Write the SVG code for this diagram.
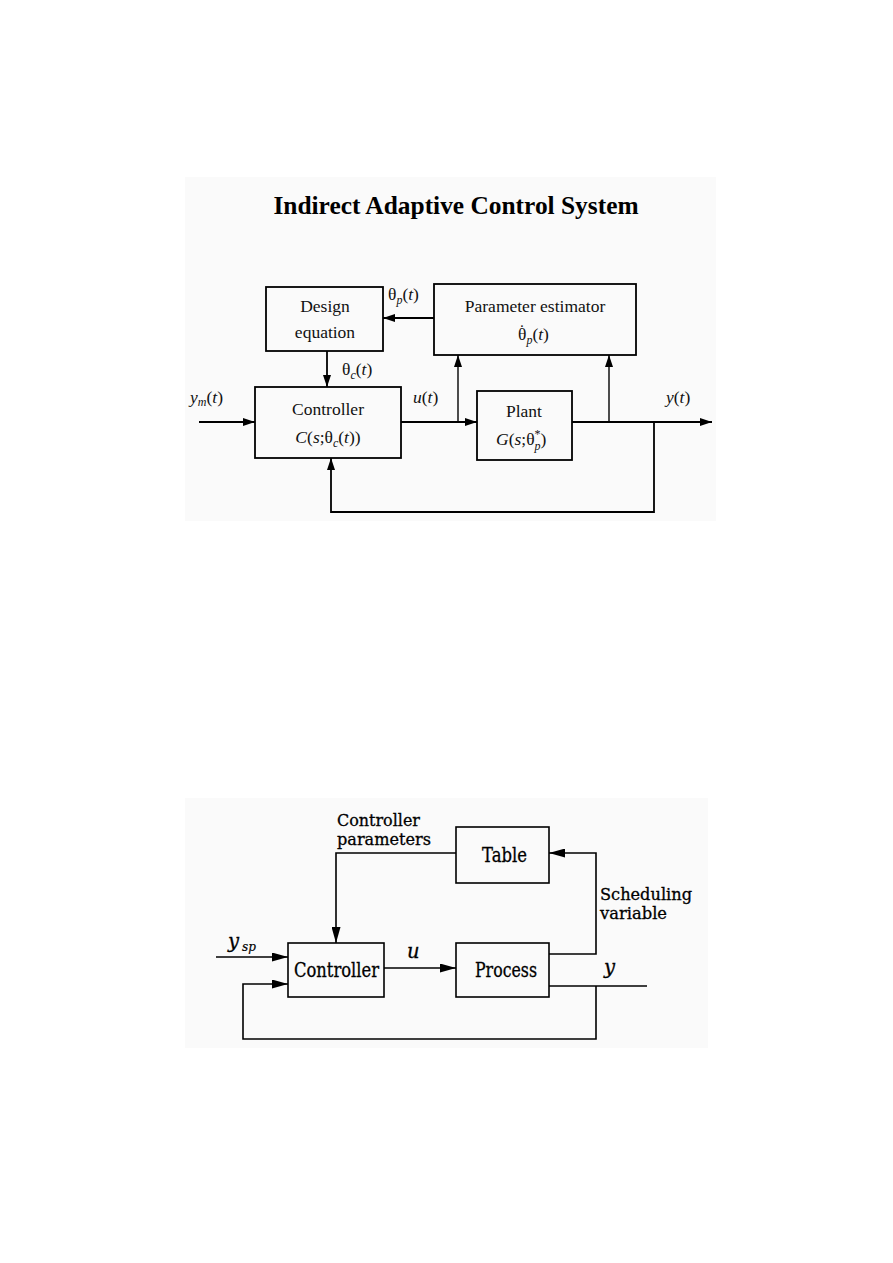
<svg xmlns="http://www.w3.org/2000/svg" width="893" height="1263" viewBox="0 0 893 1263">
<defs>
<style>
.bg{fill:#fafafa;stroke:none}
.box{fill:none;stroke:#000;stroke-width:1.8}
.box2{fill:none;stroke:#000;stroke-width:1.6}
.ln{fill:none;stroke:#000;stroke-width:1.8}
.ln2{fill:none;stroke:#000;stroke-width:1.6}
.t{font-family:"Liberation Serif","Times New Roman",serif;font-size:17.5px;fill:#111}
.i{font-style:italic}
.sub{font-size:12px}
.title{font-family:"Liberation Serif","Times New Roman",serif;font-size:25.4px;font-weight:bold;fill:#000}
.b{font-family:"DejaVu Serif","Liberation Serif",serif;font-size:19.5px;fill:#000;stroke:#000;stroke-width:0.3}
.lb{font-size:16.5px}
</style>
<marker id="ah" markerUnits="userSpaceOnUse" markerWidth="12" markerHeight="8" refX="12" refY="4" orient="auto">
<path d="M0,0 L12,4 L0,8 z" fill="#000"/>
</marker>
<marker id="ah2" markerUnits="userSpaceOnUse" markerWidth="16" markerHeight="9" refX="16" refY="4.5" orient="auto">
<path d="M0,0 L16,4.5 L0,9 z" fill="#000"/>
</marker>
</defs>
<rect class="bg" x="185" y="177" width="531" height="344"/>
<rect class="bg" x="185" y="798" width="523" height="250"/>
<text class="title" x="456" y="214" text-anchor="middle">Indirect Adaptive Control System</text>

<g id="connectors-top">
<path class="ln" d="M199,422 H255" marker-end="url(#ah)"/>
<path class="ln" d="M401,422 H477" marker-end="url(#ah)"/>
<path class="ln" d="M572,422 H712" marker-end="url(#ah)"/>
<path class="ln" d="M434,318 H383" marker-end="url(#ah)"/>
<path class="ln" d="M327,351 V387" marker-end="url(#ah)"/>
<path class="ln" d="M458,422 V355" marker-end="url(#ah)" style="stroke-width:1.4"/>
<path class="ln" d="M609,422 V355" marker-end="url(#ah)" style="stroke-width:1.4"/>
<path class="ln" d="M654,422 V512 H331 V458" marker-end="url(#ah)"/>
<text class="t" x="388" y="300">θ<tspan class="i sub" dy="4">p</tspan><tspan dy="-4">(</tspan><tspan class="i">t</tspan>)</text>
<text class="t" x="342" y="375">θ<tspan class="i sub" dy="4">c</tspan><tspan dy="-4">(</tspan><tspan class="i">t</tspan>)</text>
<text class="t" x="190" y="403"><tspan class="i">y</tspan><tspan class="i sub" dy="3">m</tspan><tspan dy="-3">(</tspan><tspan class="i">t</tspan>)</text>
<text class="t" x="413" y="403"><tspan class="i">u</tspan>(<tspan class="i">t</tspan>)</text>
<text class="t" x="666" y="403"><tspan class="i">y</tspan>(<tspan class="i">t</tspan>)</text>
</g>

<g id="design-equation">
<rect class="box" x="266" y="287" width="117" height="64"/>
<text class="t" x="325" y="312" text-anchor="middle">Design</text>
<text class="t" x="325" y="338" text-anchor="middle">equation</text>
</g>
<g id="parameter-estimator">
<rect class="box" x="434" y="284" width="202" height="71"/>
<text class="t" x="535" y="312" text-anchor="middle">Parameter estimator</text>
<text class="t" x="518" y="340">θ<tspan dx="-7.3" dy="-4">˙</tspan><tspan class="i sub" dx="1.5" dy="8">p</tspan><tspan dy="-4">(</tspan><tspan class="i">t</tspan>)</text>
</g>
<g id="controller-top">
<rect class="box" x="255" y="387" width="146" height="71"/>
<text class="t" x="328" y="415" text-anchor="middle">Controller</text>
<text class="t" x="328" y="443" text-anchor="middle"><tspan class="i">C</tspan>(<tspan class="i">s</tspan>;θ<tspan class="i sub" dy="4">c</tspan><tspan dy="-4">(</tspan><tspan class="i">t</tspan>))</text>
</g>
<g id="plant">
<rect class="box" x="477" y="391" width="95" height="69"/>
<text class="t" x="524" y="417" text-anchor="middle">Plant</text>
<text class="t" x="496" y="445"><tspan class="i">G</tspan>(<tspan class="i">s</tspan>;θ<tspan class="sub" dy="-7">*</tspan><tspan class="i sub" dx="-6" dy="12">p</tspan><tspan dy="-5">)</tspan></text>
</g>

<g id="connectors-bottom">
<path class="ln2" d="M216,957 H288" marker-end="url(#ah2)"/>
<path class="ln2" d="M596,986 V1039 H243 V984 H288" marker-end="url(#ah2)"/>
<path class="ln2" d="M384,968 H456" marker-end="url(#ah2)"/>
<path class="ln2" d="M549,986 H647"/>
<path class="ln2" d="M549,954 H596 V853 H549" marker-end="url(#ah2)"/>
<path class="ln2" d="M456,853 H336 V943" marker-end="url(#ah2)"/>
<text class="b lb" x="337" y="826" textLength="83" lengthAdjust="spacingAndGlyphs">Controller</text>
<text class="b lb" x="337" y="845" textLength="94" lengthAdjust="spacingAndGlyphs">parameters</text>
<text class="b lb" x="600" y="900" textLength="92" lengthAdjust="spacingAndGlyphs">Scheduling</text>
<text class="b lb" x="600" y="919" textLength="67" lengthAdjust="spacingAndGlyphs">variable</text>
<text class="b i" x="407" y="958">u</text>
<text class="b i" x="604" y="974">y</text>
<text class="b" x="228" y="948"><tspan class="i">y</tspan><tspan class="i" dx="3" dy="3" style="font-size:12px;stroke-width:0.2">sp</tspan></text>
</g>
<g id="table">
<rect class="box2" x="456" y="827" width="93" height="56"/>
<text class="b" x="482" y="862" textLength="45" lengthAdjust="spacingAndGlyphs">Table</text>
</g>
<g id="controller-bottom">
<rect class="box2" x="288" y="943" width="96" height="54"/>
<text class="b" x="294" y="977" textLength="85" lengthAdjust="spacingAndGlyphs">Controller</text>
</g>
<g id="process">
<rect class="box2" x="456" y="943" width="93" height="54"/>
<text class="b" x="475" y="977" textLength="62" lengthAdjust="spacingAndGlyphs">Process</text>
</g>
</svg>
